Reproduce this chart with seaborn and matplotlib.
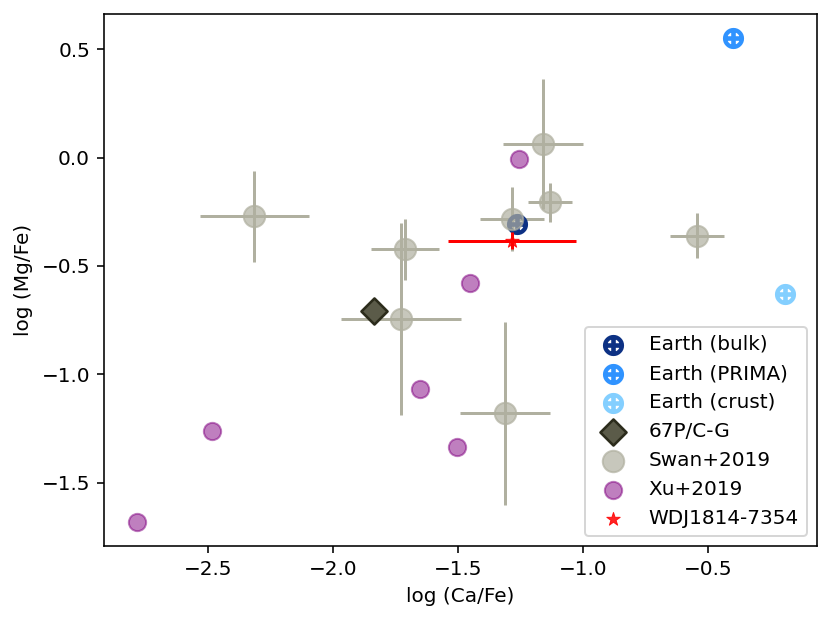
import numpy as np
import pandas as pd
import seaborn as sns
import matplotlib
matplotlib.use("Agg")
import matplotlib.pyplot as plt

# Earth reference compositions
earth_labels = ["Earth (bulk)", "Earth (PRIMA)", "Earth (crust)"]
earth_cafe = [-1.262, -0.40, -0.19]
earth_mgfe = [-0.308, 0.55, -0.63]
earth_colors = ["#0d3184", "#3093ff", "#84cfff"]

# comet 67P/C-G
comet_cafe = [-1.834]
comet_mgfe = [-0.708]

# Swan+2019 (with errors)
swan_cafe = [-2.314, -1.711, -1.726, -1.312, -1.283, -1.158, -1.131, -0.542]
swan_mgfe = [-0.270, -0.424, -0.745, -1.181, -0.284, 0.062, -0.207, -0.361]
swan_cafe_err = [0.218, 0.137, 0.24, 0.18, 0.128, 0.16, 0.088, 0.108]
swan_mgfe_err = [0.21, 0.14, 0.444, 0.424, 0.146, 0.30, 0.09, 0.103]

# Xu+2019
xu_cafe = [-2.783, -2.482, -1.652, -1.504, -1.451, -1.254]
xu_mgfe = [-1.681, -1.264, -1.070, -1.335, -0.581, -0.007]

# WDJ1814-7354
wd_cafe = [-1.283]
wd_mgfe = [-0.383]
wd_cafe_err = [0.257]
wd_mgfe_err = [0.04]

swan = pd.DataFrame({"cafe": swan_cafe, "mgfe": swan_mgfe})
xu = pd.DataFrame({"cafe": xu_cafe, "mgfe": xu_mgfe})

fig = plt.figure(figsize=(831 / 144, 621 / 144), dpi=144)
ax = fig.add_axes([104 / 831, 75 / 621, 712.7 / 831, 531.7 / 621])

for lab, xx, yy, cc in zip(earth_labels, earth_cafe, earth_mgfe, earth_colors):
    sns.scatterplot(x=[xx], y=[yy], ax=ax, marker="$\\oplus$", s=90,
                    color=cc, edgecolor=cc, linewidth=1.1, label=lab, zorder=3)

sns.scatterplot(x=comet_cafe, y=comet_mgfe, ax=ax, marker="D", s=85,
                color="#5b5b49", edgecolor="#2c2c1c", linewidth=1.3,
                label="67P/C-G", zorder=3)

ax.errorbar(swan["cafe"], swan["mgfe"], xerr=swan_cafe_err, yerr=swan_mgfe_err,
            fmt="none", ecolor="#b0b0a0", elinewidth=1.5, zorder=2)
sns.scatterplot(data=swan, x="cafe", y="mgfe", ax=ax, s=115, color="#b0b0a0",
                edgecolor="#b0b0a0", linewidth=1, alpha=0.7,
                label="Swan+2019", zorder=4)

sns.scatterplot(data=xu, x="cafe", y="mgfe", ax=ax, s=75, color="purple",
                edgecolor="purple", linewidth=1, alpha=0.5,
                label="Xu+2019", zorder=4)

ax.errorbar(wd_cafe, wd_mgfe, xerr=wd_cafe_err, yerr=wd_mgfe_err,
            fmt="none", ecolor="red", elinewidth=1.5, zorder=5)
sns.scatterplot(x=wd_cafe, y=wd_mgfe, ax=ax, marker="*", s=50, color="red",
                edgecolor="red", linewidth=0.5, alpha=0.85,
                label="WDJ1814-7354", zorder=6)

ax.set_xlim(-2.915, -0.064)
ax.set_ylim(-1.793, 0.661)
ax.set_xticks([-2.5, -2.0, -1.5, -1.0, -0.5])
ax.set_yticks([-1.5, -1.0, -0.5, 0.0, 0.5])
ax.set_xlabel("log (Ca/Fe)")
ax.set_ylabel("log (Mg/Fe)")
ax.legend(loc="lower right")

fig.savefig("out.png", dpi=144)
